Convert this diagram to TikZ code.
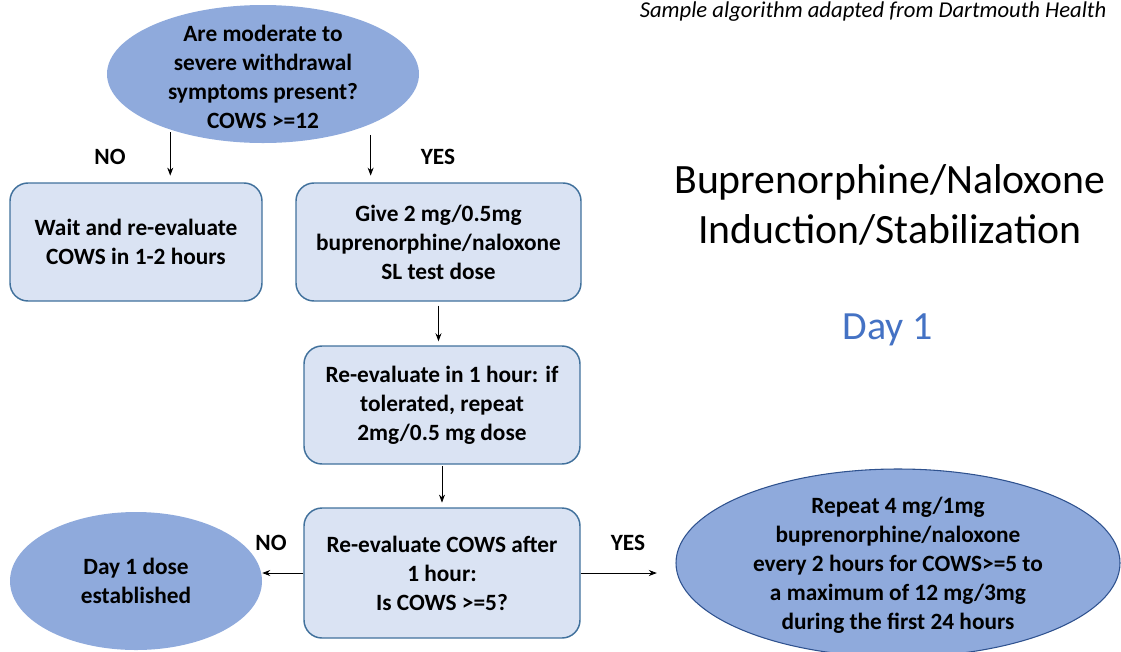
\documentclass[tikz,border=0pt]{standalone}
\usepackage{fontspec}
\setmainfont{Carlito}
\usetikzlibrary{shapes.geometric,arrows.meta}
\definecolor{ovalfill}{HTML}{8FAADC}
\definecolor{boxfill}{HTML}{DAE3F3}
\definecolor{boxline}{HTML}{41719C}
\definecolor{ovalline}{HTML}{2F528F}
\definecolor{dayblue}{HTML}{4472C4}
\tikzset{
  box/.style={draw=boxline, line width=1.1pt, fill=boxfill, rounded corners=13.5pt, minimum height=88.5pt, align=center},
  oval/.style={ellipse, fill=ovalfill, inner sep=0pt},
  txt/.style={align=center, font=\fontsize{17.5}{21.75}\selectfont\bfseries},
  arr/.style={-{Stealth[length=6pt,width=4.5pt]}, line width=0.6pt},
}

\begin{document}
\begin{tikzpicture}[x=0.75pt, y=-0.75pt]
                \useasboundingbox (0,0) rectangle (1121,651);
                \node[oval, minimum width=234pt, minimum height=103.5pt] (q) at (263,74) {};
                \node[txt] (qtext) at (263,77) {Are moderate to\\severe withdrawal\\symptoms present?\\COWS >=12};
                \node[box, txt, minimum width=189pt] (wait) at (136,242) {Wait and re-evaluate\\COWS in 1-2 hours};
                \node[box, txt, minimum width=213.75pt] (give) at (438.5,242) {Give 2 mg/0.5mg\\buprenorphine/naloxone\\SL test dose};
                \node[box, txt, minimum width=207pt] (reone) at (442,405) {Re-evaluate in 1 hour: if\\tolerated, repeat\\2mg/0.5 mg dose};
                \node[box, txt, minimum width=207pt, minimum height=97.5pt] (retwo) at (442,573) {Re-evaluate COWS after\\1 hour:\\Is COWS >=5?};
                \node[oval, minimum width=189pt, minimum height=103.5pt] (dayone) at (136,581) {};
                \node[txt] (daytext) at (dayone) {Day 1 dose\\established};
                \node[oval, draw=ovalline, line width=0.8pt, minimum width=333pt, minimum height=141pt] (rep) at (898,563) {};
                \node[txt] (reptext) at (898,565) {Repeat 4 mg/1mg\\buprenorphine/naloxone\\every 2 hours for COWS>=5 to\\a maximum of 12 mg/3mg\\during the first 24 hours};
                \node[txt] (noa) at (110,157) {NO};
                \node[txt] (yesa) at (438,157) {YES};
                \node[txt] (nob) at (271,543) {NO};
                \node[txt] (yesb) at (628,543) {YES};
                \draw[arr, shorten <=2pt, shorten >=5pt] (q.211) -- (q.211 |- wait.north);
                \draw[arr, shorten <=8pt, shorten >=5pt] (q.-25) -- (q.-25 |- give.north);
                \draw[arr, shorten <=3pt, shorten >=3pt] (give.south) -- (give.south |- reone.north);
                \draw[arr, shorten <=1pt, shorten >=3.5pt] (reone.south) -- (reone.south |- retwo.north);
                \draw[arr] (retwo.west) -- (retwo.west -| dayone.east);
                \draw[arr, shorten >=14pt] (retwo.east) -- (retwo.east -| rep.west);
                \node[align=center, font=\fontsize{31.3}{37.5}\selectfont] (title) at (890,205) {Buprenorphine/Naloxone\\Induction/Stabilization};
                \node[text=dayblue, font=\fontsize{30}{36}\selectfont] (day) at (888,330) {Day 1};
                \node[anchor=east, font=\fontsize{17}{20}\selectfont\itshape] (src) at (1111,12) {Sample algorithm adapted from Dartmouth Health};
\end{tikzpicture}
\end{document}
